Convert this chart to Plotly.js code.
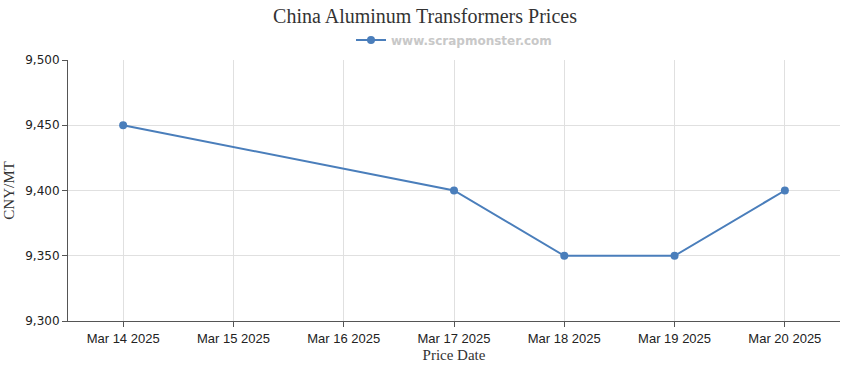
<!DOCTYPE html>
<html>
<head>
<meta charset="utf-8">
<script src="https://cdn.plot.ly/plotly-3.0.1.min.js"></script>
<style>html,body{margin:0;padding:0;background:#fff;}#chart{width:850px;height:370px;}</style>
</head>
<body>
<div id="chart"></div>
<script>
const dates = ["2025-03-14", "2025-03-17", "2025-03-18", "2025-03-19", "2025-03-20"];
const prices = [9450, 9400, 9350, 9350, 9400];
const tickDates = ["2025-03-14", "2025-03-15", "2025-03-16", "2025-03-17", "2025-03-18", "2025-03-19", "2025-03-20"];
const tickLabels = ["Mar 14 2025", "Mar 15 2025", "Mar 16 2025", "Mar 17 2025", "Mar 18 2025", "Mar 19 2025", "Mar 20 2025"];
const yTicks = [9300, 9350, 9400, 9450, 9500];
const yTickLabels = ["9,300", "9,350", "9,400", "9,450", "9,500"];

const trace = {
  x: dates, y: prices, type: "scatter", mode: "lines+markers",
  name: "www.scrapmonster.com",
  line: {color: "#4a7ebb", width: 2},
  marker: {color: "#4a7ebb", size: 8}
};
const layout = {
  width: 850, height: 370,
  margin: {l: 68, r: 10, t: 60, b: 49},
  paper_bgcolor: "#fff", plot_bgcolor: "#fff",
  title: {text: "China Aluminum Transformers Prices", x: 0.5, xanchor: "center", y: 0.975, yanchor: "top",
          font: {family: "Liberation Serif, serif", size: 20, color: "#333"}},
  showlegend: true,
  legend: {orientation: "h", x: 0.5, xanchor: "center", y: 1.077, yanchor: "middle",
           itemwidth: 30,
           font: {family: "DejaVu Sans, sans-serif", size: 12, color: "#c8c8c8", weight: "bold"}},
  xaxis: {
    type: "date", range: ["2025-03-13 12:00", "2025-03-20 12:00"],
    tickmode: "array", tickvals: tickDates, ticktext: tickLabels,
    showgrid: true, gridcolor: "#e0e0e0", zeroline: false,
    showline: true, linecolor: "#555", linewidth: 1,
    ticks: "outside", ticklen: 5, tickcolor: "#555",
    tickfont: {family: "Liberation Sans Narrow, Arial Narrow, sans-serif", size: 13, color: "#222"},
    title: {text: "Price Date", standoff: 4, font: {family: "Liberation Serif, serif", size: 15, color: "#333"}}
  },
  yaxis: {
    range: [9300, 9500], tickmode: "array", tickvals: yTicks, ticktext: yTickLabels,
    showgrid: true, gridcolor: "#e0e0e0", zeroline: false,
    showline: true, linecolor: "#555", linewidth: 1,
    ticks: "outside", ticklen: 5, tickcolor: "#555",
    tickfont: {family: "DejaVu Sans, sans-serif", size: 12, color: "#222"},
    title: {text: "CNY/MT", standoff: 6, font: {family: "Liberation Serif, serif", size: 15, color: "#333"}}
  }
};
Plotly.newPlot("chart", [trace], layout, {displayModeBar: false, staticPlot: true});
</script>
</body>
</html>
